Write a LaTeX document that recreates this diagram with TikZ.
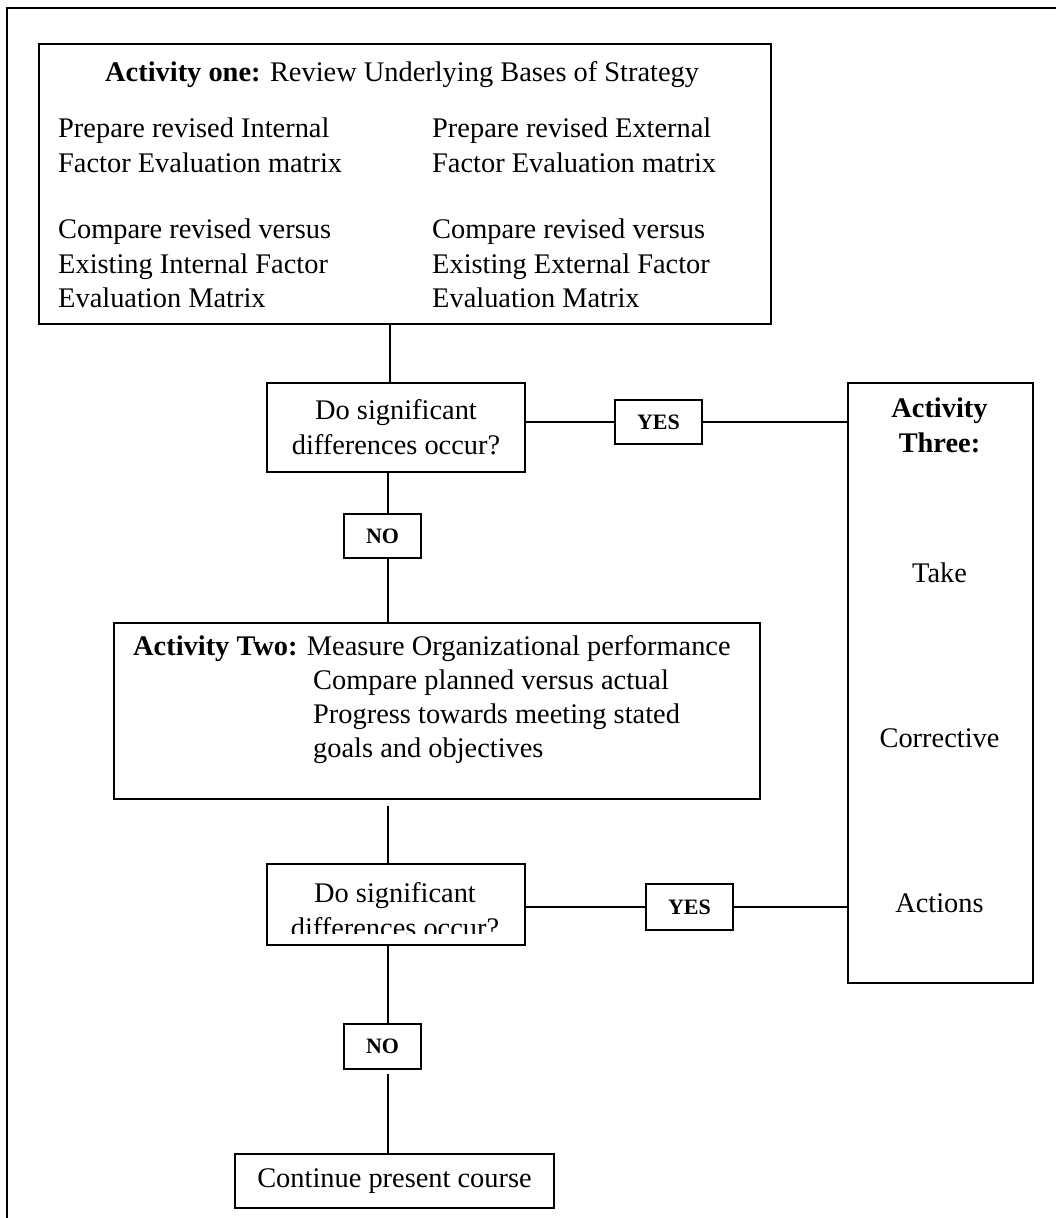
\documentclass[tikz,border=0pt]{standalone}
\usepackage{fontspec}
\setmainfont{Liberation Serif}
\begin{document}
\begin{tikzpicture}[x=1pt,y=-1pt,
  box/.style={draw, line width=2pt, rectangle, inner sep=0pt, anchor=north west},
  body/.style={font=\fontsize{28.4}{35}\selectfont, inner sep=0pt},
  head/.style={font=\bfseries\fontsize{28.4}{35}\selectfont, inner sep=0pt},
  tag/.style={font=\bfseries\fontsize{22}{26}\selectfont},
  link/.style={line width=1.8pt}]
\useasboundingbox[fill=white] (0,0) rectangle (1055,1218);

% page frame
\draw[line width=2pt] (1058,8) -- (7,8) -- (7,1221);

% Activity one
\node[box, minimum width=732pt, minimum height=280pt] (act1) at (38,43) {};
\node[body, anchor=base west] (act1title) at (105,81) {\textbf{Activity one:} Review Underlying Bases of Strategy};
\node[body, anchor=base west] (ifeA) at (58,137) {Prepare revised Internal};
\node[body, anchor=base west] (ifeB) at (58,172) {Factor Evaluation matrix};
\node[body, anchor=base west] (ifeC) at (58,238) {Compare revised versus};
\node[body, anchor=base west] (ifeD) at (58,273) {Existing Internal Factor};
\node[body, anchor=base west] (ifeE) at (58,307) {Evaluation Matrix};
\node[body, anchor=base west] (efeA) at (432,137) {Prepare revised External};
\node[body, anchor=base west] (efeB) at (432,172) {Factor Evaluation matrix};
\node[body, anchor=base west] (efeC) at (432,238) {Compare revised versus};
\node[body, anchor=base west] (efeD) at (432,273) {Existing External Factor};
\node[body, anchor=base west] (efeE) at (432,307) {Evaluation Matrix};

% first decision
\node[box, minimum width=258pt, minimum height=89pt] (d1) at (266,382) {};
\node[body, align=center] (d1text) at (d1.center) {Do significant\\differences occur?};
\node[box, tag, minimum width=87pt, minimum height=44pt, anchor=center] (yes1) at (658.5,422) {YES};
\node[box, tag, minimum width=77pt, minimum height=44pt, anchor=center] (no1) at (382.5,536) {NO};

% Activity three
\node[box, minimum width=185pt, minimum height=600pt] (act3) at (847,382) {};
\node[head, anchor=base] (act3a) at (939.5,417) {Activity};
\node[head, anchor=base] (act3b) at (939.5,452) {Three:};
\node[body, anchor=base] (take) at (939.5,582) {Take};
\node[body, anchor=base] (corr) at (939.5,747) {Corrective};
\node[body, anchor=base] (acts) at (939.5,912) {Actions};

% Activity two
\node[box, minimum width=646pt, minimum height=176pt] (act2) at (113,622) {};
\node[body, anchor=base west] (act2a) at (133,655) {\textbf{Activity Two:} Measure Organizational performance};
\node[body, anchor=base west] (act2b) at (313,689) {Compare planned versus actual};
\node[body, anchor=base west] (act2c) at (313,723) {Progress towards meeting stated};
\node[body, anchor=base west] (act2d) at (313,757) {goals and objectives};

% second decision: the lower line of text runs past the box margin and is cut off
\node[box, minimum width=258pt, minimum height=81pt] (d2) at (266,863) {};
\begin{scope}
  \clip (268,865) rectangle (522,933);
  \node[body, anchor=base] (d2a) at (395,902) {Do significant};
  \node[body, anchor=base] (d2b) at (395,937) {differences occur?};
\end{scope}
\node[box, tag, minimum width=87pt, minimum height=46pt, anchor=center] (yes2) at (689.5,907) {YES};
\node[box, tag, minimum width=77pt, minimum height=45pt, anchor=center] (no2) at (382.5,1046.5) {NO};

% final outcome
\node[box, body, minimum width=319pt, minimum height=54pt] (cont) at (234,1153) {Continue present course};

% connectors
\coordinate (xa) at (390,0);
\coordinate (xb) at (388,0);
\draw[link] (act1.south -| xa) -- (d1.north -| xa);
\draw[link] (yes1.west) -- (yes1.west -| d1.east);
\draw[link] (yes1.east) -- (yes1.east -| act3.west);
\draw[link] (d1.south -| xb) -- (no1.north -| xb);
\draw[link] (no1.south -| xb) -- (act2.north -| xb);
\draw[link, shorten <=6pt] (act2.south -| xb) -- (d2.north -| xb);
\draw[link] (yes2.west) -- (yes2.west -| d2.east);
\draw[link] (yes2.east) -- (yes2.east -| act3.west);
\draw[link] (d2.south -| xb) -- (no2.north -| xb);
\draw[link, shorten <=4pt] (no2.south -| xb) -- (cont.north -| xb);
\end{tikzpicture}
\end{document}
